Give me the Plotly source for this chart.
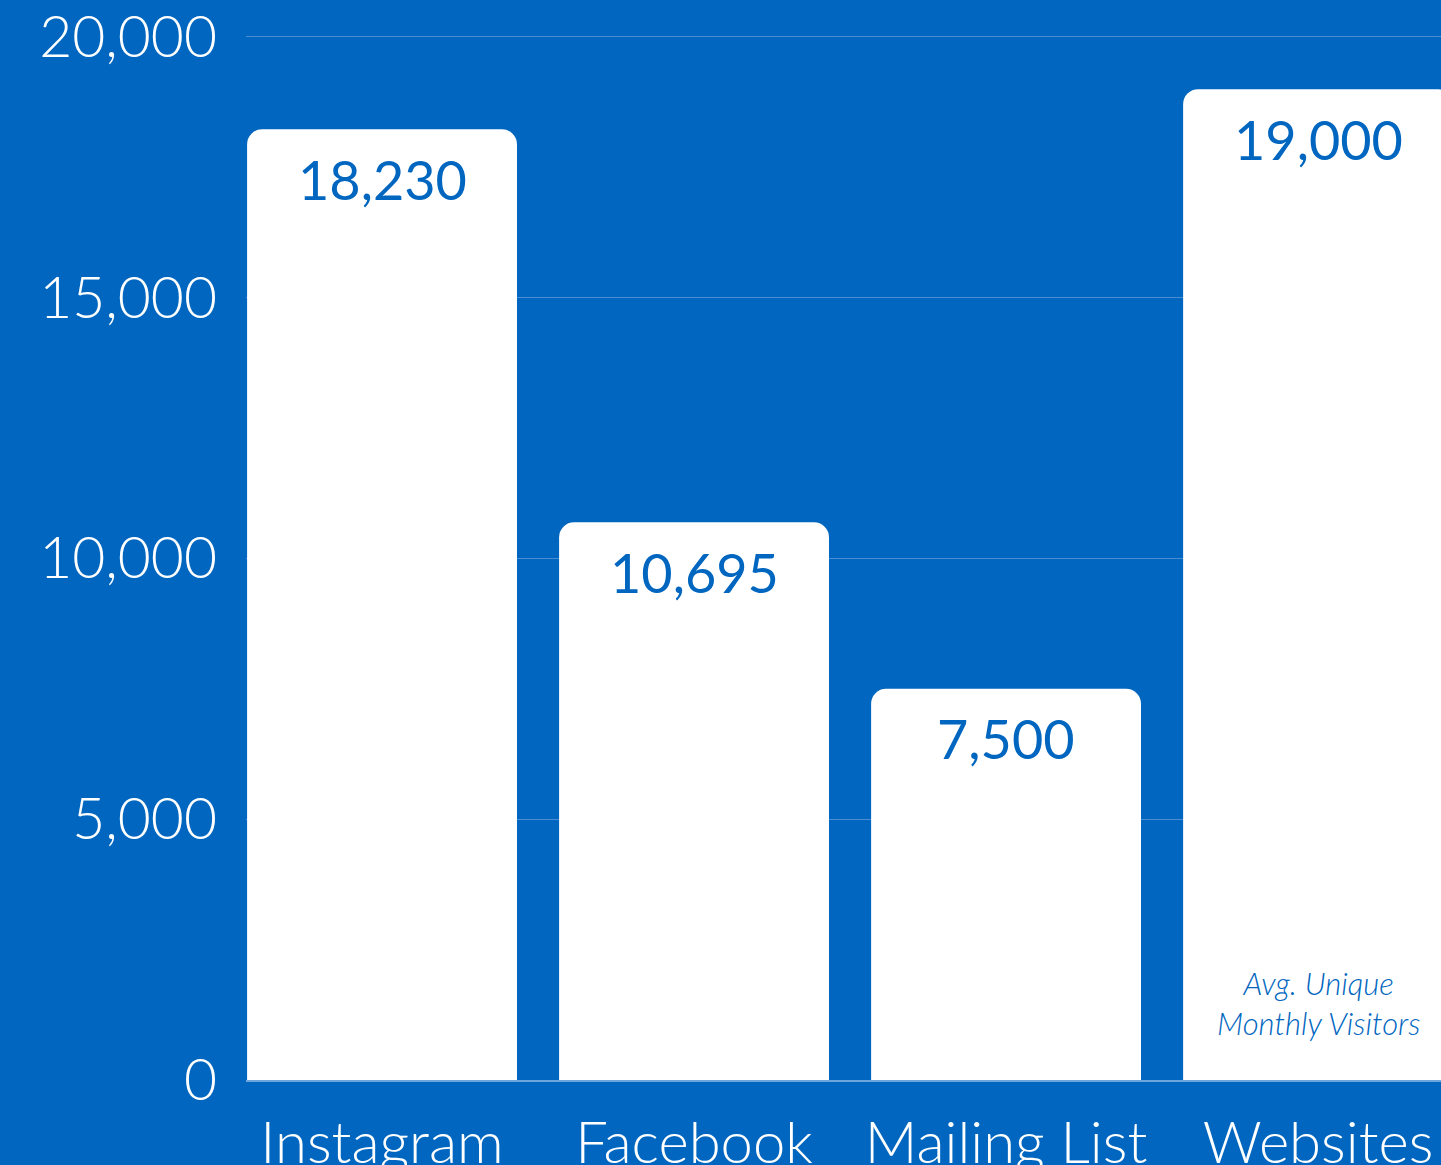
import plotly.graph_objects as go

categories = ["Instagram", "Facebook", "Mailing List", "Websites"]
values = [18230, 10695, 7500, 19000]
value_labels = ["18,230", "10,695", "7,500", "19,000"]
y_ticks = [0, 5000, 10000, 15000, 20000]
y_tick_labels = ["0", "5,000", "10,000", "15,000", "20,000"]
note_text = "Avg. Unique<br>Monthly Visitors"

BG = "#0066BF"
FONT = "Lato"

fig = go.Figure()
fig.add_trace(go.Bar(
    x=categories, y=values,
    marker=dict(color="white", line=dict(width=0)),
    hoverinfo="skip",
))

for c, v, t in zip(categories, values, value_labels):
    fig.add_annotation(x=c, y=v, text=t, showarrow=False, yanchor="middle",
                       yshift=-50, font=dict(family=FONT, size=54, color=BG, weight=400))

fig.add_annotation(x=categories[3], y=0, text=note_text, showarrow=False,
                   yanchor="bottom", yshift=36,
                   font=dict(family=FONT, size=31, color=BG, style="italic", weight=300))

fig.update_layout(
    width=1441, height=1165,
    margin=dict(l=246, r=0, t=30, b=85, autoexpand=False),
    paper_bgcolor=BG, plot_bgcolor=BG,
    bargap=0.135, barcornerradius=15,
    showlegend=False,
    font=dict(family=FONT, color="white"),
)
fig.update_xaxes(
    range=[-0.436, 3.394], showgrid=False, zeroline=False,
    showline=True, linecolor="#6fa6dd", linewidth=2, layer="above traces",
    tickfont=dict(family=FONT, size=58, color="white", weight=300),
    ticks="", ticklabelstandoff=11, automargin=False,
)
fig.update_yaxes(
    range=[0, 20134], tickvals=y_ticks, ticktext=y_tick_labels,
    showgrid=True, gridcolor="#4a8dd3", gridwidth=1, zeroline=False,
    tickfont=dict(family=FONT, size=57, color="white", weight=300),
    ticks="", ticklabelstandoff=28, automargin=False,
)

fig.write_html("out.html", config={"displayModeBar": False},
               post_script="document.body.style.margin='0';document.body.style.overflow='hidden';")
